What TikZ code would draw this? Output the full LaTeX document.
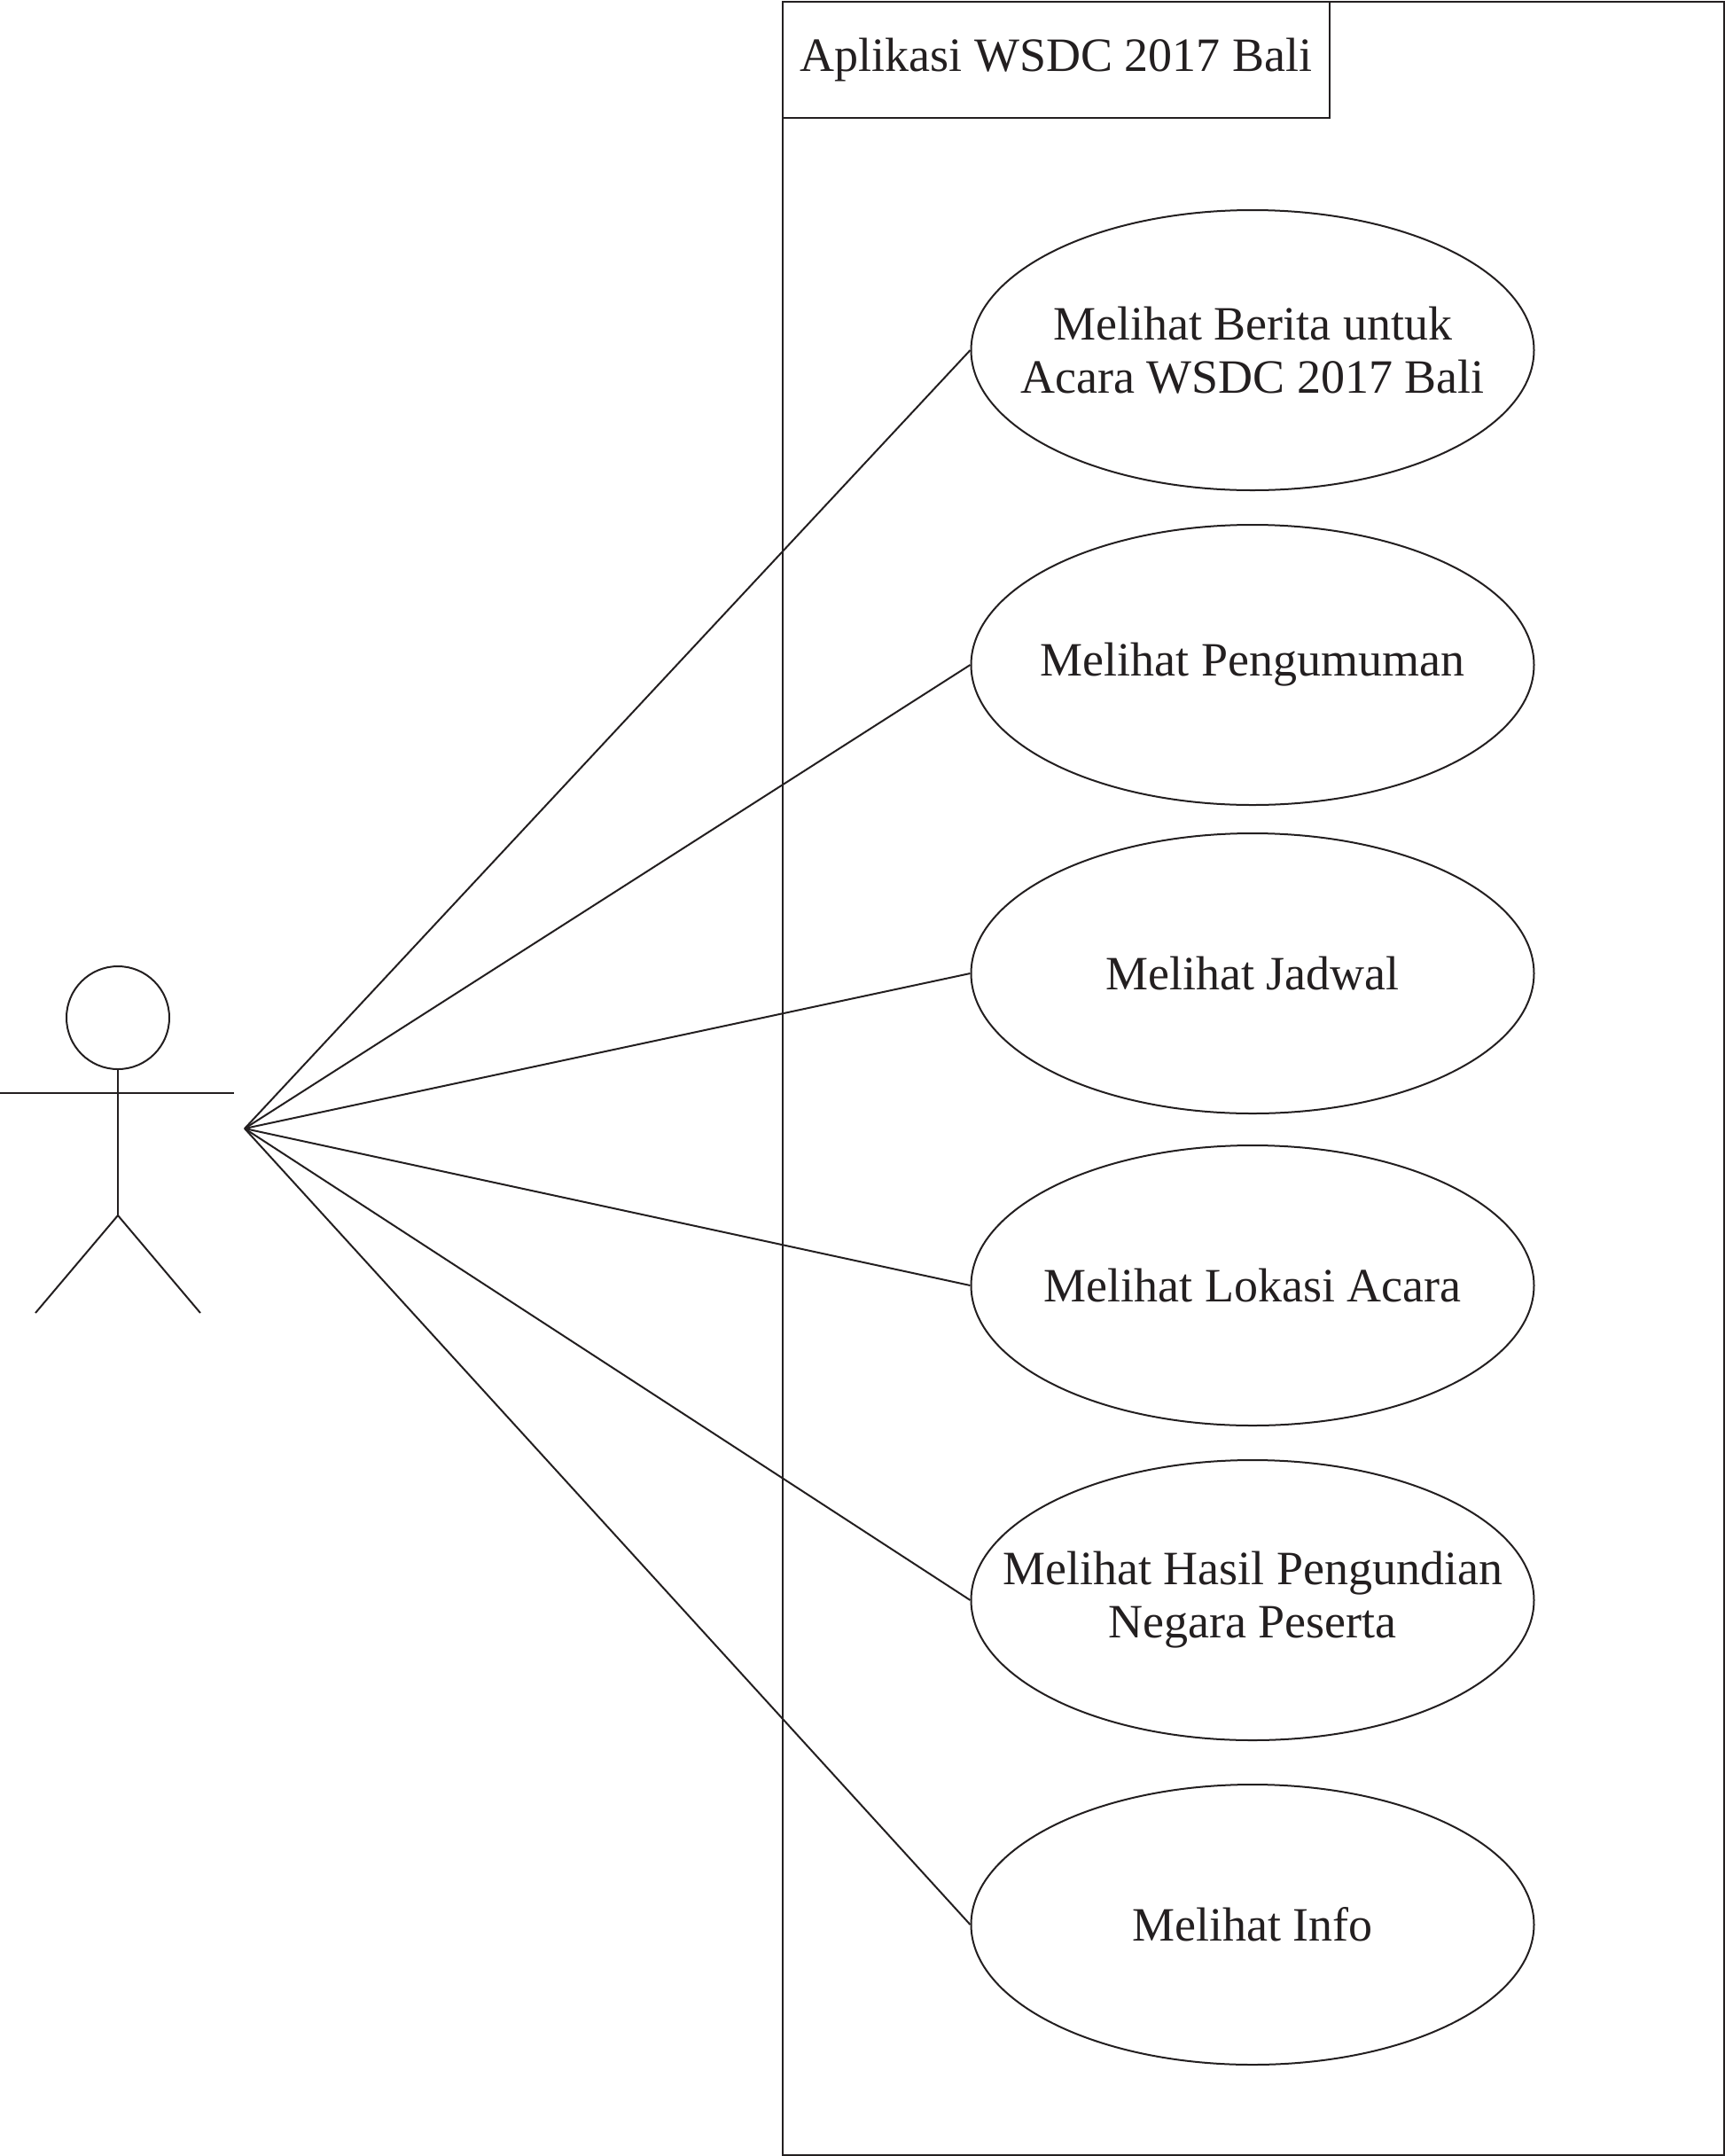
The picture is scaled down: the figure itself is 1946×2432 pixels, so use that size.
\documentclass[tikz,border=0pt]{standalone}
\usepackage{fontspec}
\setmainfont{Liberation Serif}
\usetikzlibrary{shapes.geometric,positioning}
\definecolor{umlink}{RGB}{35,31,32}
\tikzstyle{usecase}=[draw=umlink,ellipse,minimum width=158.75pt,minimum height=79pt,inner xsep=-25pt,inner ysep=0pt,align=center,text=umlink,font=\fontsize{13.5}{15}\selectfont]
\tikzstyle{sysbox}=[draw=umlink,rectangle,inner sep=0pt,anchor=north west]
\tikzstyle{assoc}=[draw=umlink,line width=0.5pt]

\begin{document}
\begin{tikzpicture}[x=0.25pt,y=-0.25pt,line width=0.5pt]
		\useasboundingbox (0,0) rectangle (1946,2432);
		% system boundary
		\node[sysbox,minimum width=265.5pt,minimum height=607.25pt] (system) at (882,1) {};
		\node[sysbox,minimum width=154.25pt,minimum height=32.75pt,text=umlink,font=\fontsize{13.5}{15}\selectfont] (title) at (882,1) {Aplikasi WSDC 2017 Bali};
		
		% use cases
		\node[usecase] (uc1) at (1413,395) {Melihat Berita untuk\\Acara WSDC 2017 Bali};
		\node[usecase] (uc2) at (1413,750) {Melihat Pengumuman};
		\node[usecase] (uc3) at (1413,1098) {Melihat Jadwal};
		\node[usecase] (uc4) at (1413,1450) {Melihat Lokasi Acara};
		\node[usecase] (uc5) at (1413,1805) {Melihat Hasil Pengundian\\Negara Peserta};
		\node[usecase] (uc6) at (1413,2171) {Melihat Info};
		
		% actor
		\node[draw=umlink,circle,minimum size=29pt,inner sep=0pt] (head) at (133,1148) {};
		\coordinate (hip) at (133,1371);
		\draw[umlink] (head.south) -- (hip);
		\draw[umlink] (0,1233) -- (264,1233);
		\draw[umlink] (40,1481) -- (hip) -- (226,1481);
		\coordinate (actor) at (276,1273);
		
		% associations
		\draw[assoc] (actor) -- (uc1.west);
		\draw[assoc] (actor) -- (uc2.west);
		\draw[assoc] (actor) -- (uc3.west);
		\draw[assoc] (actor) -- (uc4.west);
		\draw[assoc] (actor) -- (uc5.west);
		\draw[assoc] (actor) -- (uc6.west);
\end{tikzpicture}
\end{document}
